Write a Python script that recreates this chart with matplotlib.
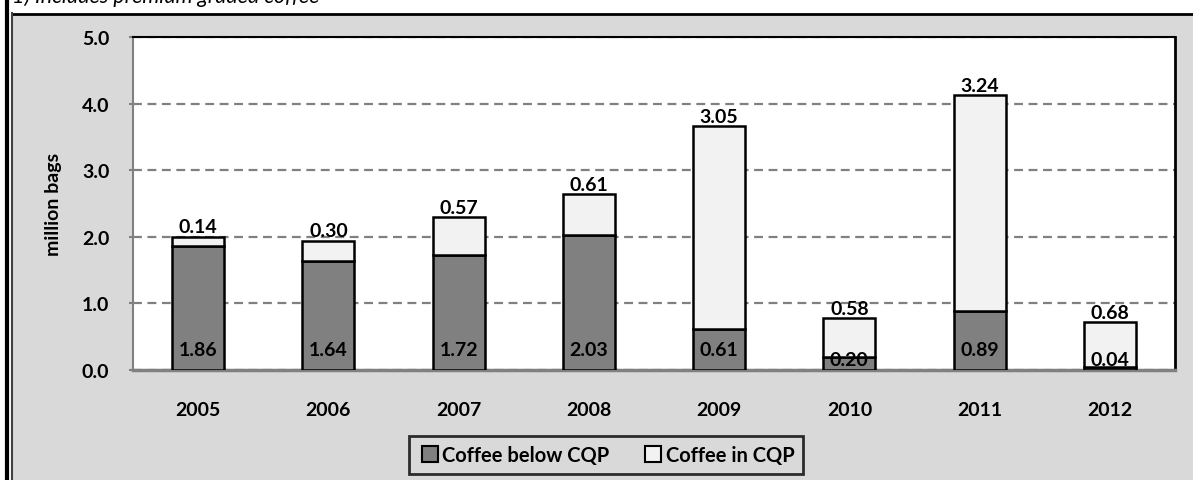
import numpy as np
import matplotlib.pyplot as plt
from matplotlib.patches import Rectangle
from matplotlib.lines import Line2D

plt.rcParams['font.family'] = ['Lato', 'DejaVu Sans']

years = ["2005", "2006", "2007", "2008", "2009", "2010", "2011", "2012"]
below_cqp = [1.86, 1.64, 1.72, 2.03, 0.61, 0.20, 0.89, 0.04]
in_cqp = [0.14, 0.30, 0.57, 0.61, 3.05, 0.58, 3.24, 0.68]
yticks = [0.0, 1.0, 2.0, 3.0, 4.0, 5.0]

dark = "#808080"
light = "#f2f2f2"
panel = "#d9d9d9"

fig = plt.figure(figsize=(11.93, 4.81), dpi=100, facecolor="white")

# gray panel and frame lines
W, H = 1193.0, 481.0
fig.patches.append(Rectangle((13/W, 0), 1-13/W, 1-15/H, transform=fig.transFigure,
	facecolor=panel, edgecolor="none", zorder=-5))
fig.add_artist(Line2D([13/W, 1], [1-14.5/H, 1-14.5/H], transform=fig.transFigure, color="black", lw=2))
fig.add_artist(Line2D([7/W, 7/W], [0, 1], transform=fig.transFigure, color="black", lw=3))
fig.add_artist(Line2D([12/W, 12/W], [0, 1-14/H], transform=fig.transFigure, color="#404040", lw=1.5))
# footnote, cut at the top edge as in the source
fig.text(12/W, 1-3/H, "1) Includes premium graded coffee", style="italic", fontsize=15.5,
	va="baseline", ha="left", color="black")

ax = fig.add_axes([133/W, 1-371/H, (1175-133)/W, (371-38)/H], zorder=2)
ax.set_facecolor("white")

x = np.arange(len(years))
ax.bar(x, below_cqp, width=0.4, color=dark, edgecolor="black", lw=1.8, zorder=3)
ax.bar(x, in_cqp, width=0.4, bottom=below_cqp, color=light, edgecolor="black", lw=1.8, zorder=3)

for i in range(len(years)):
	total = below_cqp[i] + in_cqp[i]
	ax.annotate("{:.2f}".format(in_cqp[i]), (x[i], total), xytext=(0, 1), textcoords="offset points",
		ha="center", va="bottom", fontsize=14, fontweight="bold", zorder=5)
	yb = 0.31 if below_cqp[i] > 0.4 else 0.16
	ax.text(x[i], yb, "{:.2f}".format(below_cqp[i]), ha="center", va="center",
		fontsize=14, fontweight="bold", zorder=5)

ax.set_xlim(-0.5, len(years)-0.5)
ax.set_ylim(0, 5)
ax.set_yticks(yticks)
ax.set_yticklabels(["{:.1f}".format(v) for v in yticks], fontsize=14, fontweight="bold")
ax.set_xticks(x)
ax.set_xticklabels(years, fontsize=14, fontweight="bold")
ax.tick_params(axis="x", length=0, pad=22)
ax.tick_params(axis="y", length=3, color=dark, width=1.5, pad=14)
ax.yaxis.grid(True, color=dark, ls=(0, (4, 2.5)), lw=1.6, zorder=1)
ax.set_axisbelow(True)

ax.spines["top"].set_color("black")
ax.spines["top"].set_linewidth(1.5)
ax.spines["right"].set_color("black")
ax.spines["right"].set_linewidth(2)
ax.spines["left"].set_color(dark)
ax.spines["left"].set_linewidth(1.5)
ax.spines["bottom"].set_color(dark)
ax.spines["bottom"].set_linewidth(2.5)

ax.set_ylabel("million bags", fontsize=14, fontweight="bold")
ax.yaxis.set_label_coords(-0.068, 0.5)

handles = [
	Line2D([], [], marker="s", ls="none", markersize=11, markerfacecolor=dark, markeredgecolor="black", markeredgewidth=1.5),
	Line2D([], [], marker="s", ls="none", markersize=11, markerfacecolor=light, markeredgecolor="black", markeredgewidth=1.5),
]
leg = fig.legend(handles, ["Coffee below CQP", "Coffee in CQP"], loc="center",
	bbox_to_anchor=(606/W, 1-456/H), ncol=2, frameon=True, fancybox=False,
	prop={"size": 14.5, "weight": "bold"}, handletextpad=0.0, columnspacing=1.6,
	borderpad=0.45, handlelength=1.2)
leg.get_frame().set_facecolor(panel)
leg.get_frame().set_edgecolor("black")
leg.get_frame().set_linewidth(2)

plt.savefig("out.png", dpi=100, facecolor=fig.get_facecolor())
